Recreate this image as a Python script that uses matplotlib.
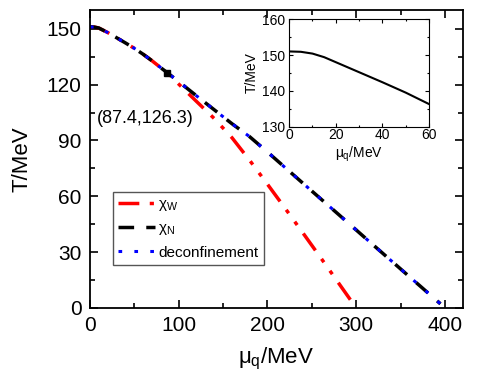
import matplotlib
matplotlib.use("Agg")
import matplotlib.pyplot as plt
from matplotlib.ticker import MultipleLocator

plt.rcParams['font.family'] = ['Liberation Sans', 'DejaVu Sans']
plt.rcParams['mathtext.fontset'] = 'custom'
plt.rcParams['mathtext.rm'] = 'Liberation Sans'
plt.rcParams['mathtext.it'] = 'Liberation Sans'

# common part (mu_q, T) up to CEP
mu_common = [0, 5, 10, 20, 30, 40, 50, 60, 70, 80, 87.4]
T_common = [151, 150.9, 150.4, 148, 145.2, 142.4, 139.5, 136.3, 132.8, 129.0, 126.3]

# chi_W branch after CEP
mu_W = [87.4, 100, 120, 140, 160, 180, 200, 220, 240, 260, 280, 300]
T_W = [126.3, 120.3, 111.0, 101.8, 91.5, 79.3, 66.5, 53.5, 40.3, 27, 13.5, 0]

# chi_N / deconfinement branch after CEP
mu_N = [87.4, 100, 120, 140, 160, 180, 200, 240, 280, 320, 360, 395]
T_N = [126.3, 121.6, 114, 106.5, 99, 92, 83.8, 67, 50.3, 33.5, 16.8, 2.2]

cep = (87.4, 126.3)

# inset data
mu_in = [0, 5, 10, 15, 20, 30, 40, 50, 60]
T_in = [151, 150.9, 150.4, 149.4, 148, 145.2, 142.4, 139.5, 136.3]

fig = plt.figure(figsize=(4.86, 3.76), dpi=100)
ax = fig.add_axes([0.185, 0.181, 0.767, 0.792])

muW_full = mu_common + mu_W[1:]
TW_full = T_common + T_W[1:]
muN_full = mu_common + mu_N[1:]
TN_full = T_common + T_N[1:]

ax.plot(muW_full, TW_full, color='red', lw=2.5, dashes=(6, 3, 1.2, 3, 1.2, 3),
        label=r'$\chi_\mathrm{W}$')
ax.plot(muN_full, TN_full, color='black', lw=2.5, dashes=(4.5, 3.5),
        label=r'$\chi_\mathrm{N}$')
ax.plot(muN_full, TN_full, color='blue', lw=2.2, dashes=(1.2, 4),
        label='deconfinement')
ax.plot([cep[0]], [cep[1]], marker='s', color='black', ms=5, ls='none')
ax.text(8, 102, '(87.4,126.3)', fontsize=13, va='center', ha='left')

ax.set_xlim(0, 420)
ax.set_ylim(0, 160)
ax.xaxis.set_major_locator(MultipleLocator(100))
ax.xaxis.set_minor_locator(MultipleLocator(50))
ax.yaxis.set_major_locator(MultipleLocator(30))
ax.yaxis.set_minor_locator(MultipleLocator(15))
ax.tick_params(which='both', direction='in', top=True, right=True, width=1.2)
ax.tick_params(which='major', length=6, labelsize=15, pad=6)
ax.tick_params(which='minor', length=3.5)
ax.tick_params(axis='x', which='both', labeltop=False)
ax.tick_params(axis='y', which='both', labelright=False)
for s in ax.spines.values():
    s.set_linewidth(1.3)
ax.set_xlabel(r'$\mu_\mathrm{q}$/MeV', fontsize=16, labelpad=8)
ax.set_ylabel('T/MeV', fontsize=16, labelpad=10)

leg = ax.legend(loc='lower left', bbox_to_anchor=(0.062, 0.144), borderaxespad=0,
                fontsize=11, frameon=True, fancybox=False, edgecolor='#555555',
                framealpha=1, handlelength=2.4, handletextpad=0.2, borderpad=0.35,
                labelspacing=0.55)
leg.get_frame().set_linewidth(1.0)

axi = fig.add_axes([0.595, 0.663, 0.288, 0.286])
axi.plot(mu_in, T_in, color='black', lw=1.5)
axi.set_xlim(0, 60)
axi.set_ylim(130, 160)
axi.xaxis.set_major_locator(MultipleLocator(20))
axi.xaxis.set_minor_locator(MultipleLocator(10))
axi.yaxis.set_major_locator(MultipleLocator(10))
axi.yaxis.set_minor_locator(MultipleLocator(5))
axi.tick_params(which='both', direction='in', top=True, right=True, width=0.8)
axi.tick_params(which='major', length=3, labelsize=10)
axi.tick_params(axis='x', which='major', pad=1)
axi.tick_params(axis='y', which='major', pad=3)
axi.tick_params(which='minor', length=1.5)
axi.tick_params(axis='x', labeltop=False)
axi.tick_params(axis='y', labelright=False)
for s in axi.spines.values():
    s.set_linewidth(0.8)
axi.set_xlabel(r'$\mu_\mathrm{q}$/MeV', fontsize=10, labelpad=2)
axi.set_ylabel('T/MeV', fontsize=10, labelpad=2)

fig.savefig('out.png', dpi=100)
